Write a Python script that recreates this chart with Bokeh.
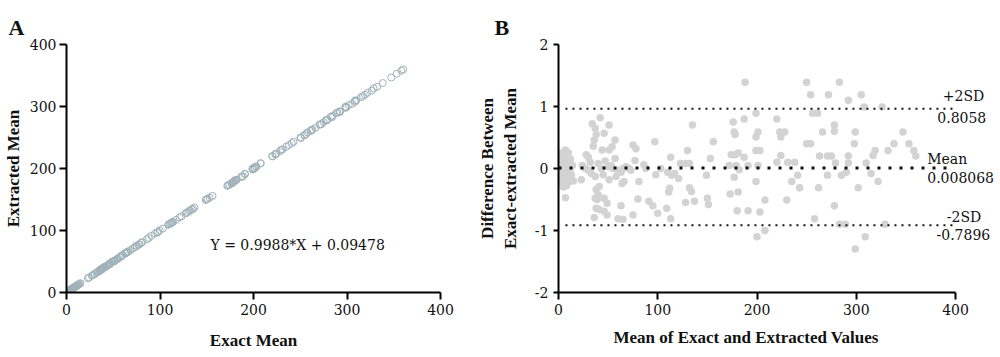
import numpy as np
from bokeh.plotting import figure
from bokeh.layouts import row
from bokeh.models import Range1d, Label, FixedTicker, Title
from bokeh.embed import file_html
from bokeh.resources import INLINE

# ---------------- data ----------------
# Panel B: Bland-Altman points (mean of exact & extracted, difference)
ba_mean = [
    1, 1, 2, 2, 2, 3, 3, 3, 4, 4, 4, 5, 5, 5, 6, 6, 6, 7, 7, 7, 8, 8, 8, 9, 9, 10, 10, 10, 11, 11, 12, 12, 13, 14, 15, 7,
    23, 24, 27, 28, 30, 30, 32, 33, 34, 35, 36, 36, 37, 37, 37, 38, 38, 38, 39, 40, 40, 41, 41, 42, 43, 44, 45, 46, 46, 46,
    47, 49, 49, 50, 51, 51, 51, 53, 54, 55, 57, 57, 58, 60, 60, 63, 63, 64, 65, 65, 66, 68, 71, 73, 75, 75, 77, 78, 80, 81,
    86, 88, 91, 95, 97, 98, 100, 103,
    109, 110, 111, 112, 113, 113, 114, 117, 121, 123, 128, 128, 130, 132, 132, 134, 135, 137, 149, 150, 151, 153, 156,
    172, 173, 174, 176, 177, 177, 178, 178, 179, 180, 181, 181, 182, 187, 187, 188, 191, 191, 199, 199, 199, 199, 200, 201,
    201, 203, 203, 208, 208, 220, 220, 223, 224, 224, 228, 230, 231, 235, 238,
    241, 243, 250, 250, 254, 254, 256, 258, 261, 262, 263, 266, 271, 271, 272, 275, 278, 278, 278, 279, 283, 283, 285, 289,
    290, 292, 292, 292, 298, 299, 299, 302, 305, 308, 309, 310, 315, 317, 319, 322, 326, 329, 332, 338, 347, 353, 358, 360,
]
ba_diff = [
    0.05, -0.1, 0.15, -0.2, 0.0, 0.25, -0.05, -0.25, 0.1, -0.15, 0.2, 0.0, -0.3, 0.12, 0.22, -0.08, -0.2, 0.3, 0.05, -0.15,
    0.18, -0.28, -0.02, 0.1, -0.12, 0.25, -0.05, -0.22, 0.08, -0.18, 0.0, 0.15, -0.1, 0.05, -0.2, -0.47,
    -0.18, 0.05, 0.0, 0.22, 0.18, -0.03, 0.1, -0.08, 0.72, 0.36, 0.46, -0.79, 0.65, -0.13, -0.48, 0.55, -0.34, -0.64, -0.5,
    0.08, -0.42, -0.29, -0.66, 0.82, 0.0, 0.3, -0.1, 0.57, -0.48, -0.69,
    0.12, -0.56, -0.75, 0.03, 0.70, 0.3, -0.18, 0.05, 0.35, 0.0, 0.46, 0.16, -0.13, -0.03, -0.81, -0.06, -0.6, -0.24, 0.0,
    -0.82, -0.21, 0.03, 0.0, -0.03, 0.38, -0.75, 0.13, 0.32, -0.49, -0.21,
    0.06, 0.0, -0.53, -0.6, 0.43, -0.1, -0.72, 0.0,
    -0.64, -0.06, -0.38, -0.32, 0.18, -0.81, -0.11, -0.08, -0.16, 0.08, 0.08, -0.55, 0.29, 0.08, -0.31, -0.37, 0.70, -0.53,
    -0.11, -0.48, -0.58, 0.16, 0.43,
    0.05, -0.41, 0.22, 0.75, 0.59, -0.14, 0.55, 0.22, 0.05, -0.68, 0.25, -0.38, -0.02, 0.18, 0.8, 1.39, 0.05, -0.68, 0.89,
    0.51, 0.29, -0.21, -1.1, 0.59, 0.05, 0.29, -0.7, -0.51, -1.0, 0.8, 0.1, 0.59, 0.51, 0.21, 0.59, -0.51, 0.1, -0.21, 0.1,
    -0.11, -0.31, 1.39, 0.4, 1.19, 0.4, 0.89, -0.81, 0.89, -0.31, 0.2, 0.59, 0.2, -0.11, 1.19, 0.2, 0.7, 0.6, -0.6, 0.09,
    1.39, -0.9, -0.11, -0.9, -0.06, 1.1, 0.2, 0.09, 0.4, -1.3, 0.59, -0.31, 1.19, 0.99, -1.1, 0.09, -0.08, 0.21, 0.29, -0.21,
    0.99, -0.9, 0.29, 0.4, 0.59, 0.4, 0.29, 0.2,
]

# Reference lines of panel B (drawn height) and their printed labels
mean_line_y = 0.008068
upper_line_y = 0.965
lower_line_y = -0.915
mean_label = "0.008068"
upper_label = "0.8058"
lower_label = "-0.7896"

# Panel A: exact vs extracted (same measurements)
exact_mean = list(np.array(ba_mean) + np.array(ba_diff) / 2)
extracted_mean = list(np.array(ba_mean) - np.array(ba_diff) / 2)
fit_text = "Y = 0.9988*X + 0.09478"

ticks_a = [0, 100, 200, 300, 400]
ticks_b_x = [0, 100, 200, 300, 400]
ticks_b_y = [-2, -1, 0, 1, 2]
tick_labels_b_y = {-2: "-2", -1: "-1", 0: "0", 1: "1", 2: "2"}

# ---------------- styling helpers ----------------
SERIF = "DejaVu Serif"
TITLE_FONT = "Liberation Serif"


def style_axes(p):
    for ax in (p.xaxis[0], p.yaxis[0]):
        ax.axis_line_width = 2
        ax.axis_line_color = "black"
        ax.major_tick_line_width = 2
        ax.major_tick_line_color = "black"
        ax.major_tick_out = 7
        ax.major_tick_in = 0
        ax.minor_tick_line_color = None
        ax.major_label_text_font = SERIF
        ax.major_label_text_font_size = "14px"
        ax.major_label_text_color = "#111111"
        ax.axis_label_text_font = TITLE_FONT
        ax.axis_label_text_font_style = "bold"
        ax.axis_label_text_font_size = "17px"
        ax.axis_label_text_color = "#111111"
    p.xgrid.visible = False
    p.ygrid.visible = False
    p.outline_line_color = None
    p.background_fill_color = "white"
    p.border_fill_color = "white"


def bold_title(text, size, align, offset, standoff=10):
    return Title(text=text, align=align, offset=offset, text_font=TITLE_FONT, standoff=standoff,
                 text_font_style="bold", text_font_size=size, text_color="#111111")


# ---------------- Panel A ----------------
pa = figure(frame_width=374, frame_height=248, output_backend="svg", toolbar_location=None,
            x_range=Range1d(0, 400), y_range=Range1d(0, 400),
            min_border_left=59, min_border_right=35, min_border_top=44, min_border_bottom=60)
pa.add_layout(bold_title("A", "22px", "left", -58), "above")
pa.scatter(exact_mean, extracted_mean, size=7, fill_color=None, line_color="#a0b2ba", line_width=1)
pa.yaxis.axis_label = "Extracted Mean"
pa.xaxis.ticker = FixedTicker(ticks=ticks_a)
pa.yaxis.ticker = FixedTicker(ticks=ticks_a)
pa.xaxis.major_label_standoff = 4
pa.yaxis.major_label_standoff = 3
pa.yaxis.axis_label_standoff = 4
style_axes(pa)
pa.add_layout(bold_title("Exact Mean", "17px", "center", 0, standoff=22), "below")
pa.add_layout(Label(x=154, y=77, text=fit_text, text_font=SERIF, text_font_size="14px",
                    text_baseline="middle", text_color="#111111"))

# ---------------- Panel B ----------------
pb = figure(frame_width=438, frame_height=248, output_backend="svg", toolbar_location=None,
            x_range=Range1d(0, 441.3), y_range=Range1d(-2, 2),
            min_border_left=78, min_border_right=0, min_border_top=44, min_border_bottom=60)
pb.add_layout(bold_title("B", "22px", "left", -64), "above")
pb.scatter(ba_mean, ba_diff, size=7.5, fill_color="#d3d3d3", line_color=None)
pb.line([7, 400], [upper_line_y, upper_line_y], line_color="#111111", line_width=2, line_dash="2 5")
pb.line([7, 400], [lower_line_y, lower_line_y], line_color="#111111", line_width=2, line_dash="2 5")
pb.line([0, 392], [mean_line_y, mean_line_y], line_color="#111111", line_width=3, line_dash="3 8")
pb.yaxis.axis_label = "Difference Between\nExact-extracted Mean"
pb.xaxis.ticker = FixedTicker(ticks=ticks_b_x)
pb.yaxis.ticker = FixedTicker(ticks=ticks_b_y)
pb.yaxis.major_label_overrides = tick_labels_b_y
pb.xaxis.bounds = (0, 400)
pb.xaxis.major_label_standoff = 4
pb.yaxis.major_label_standoff = 5
pb.yaxis.axis_label_standoff = 12
style_axes(pb)
pb.yaxis.major_tick_out = 5
pb.add_layout(bold_title("Mean of Exact and Extracted Values", "17px", "left", 55, standoff=16), "below")


def lab(x, y, t, align):
    pb.add_layout(Label(x=x, y=y, text=t, text_font=SERIF, text_font_size="14px",
                        text_align=align, text_baseline="middle", text_color="#111111"))


lab(429, 1.17, "+2SD", "right")
lab(431, 0.82, upper_label, "right")
lab(371.5, 0.16, "Mean", "left")
lab(371.5, -0.15, mean_label, "left")
lab(426, -0.78, "-2SD", "right")
lab(435, -1.07, lower_label, "right")

layout = row(pa, pb)
open("out.html", "w").write(file_html(layout, INLINE))
